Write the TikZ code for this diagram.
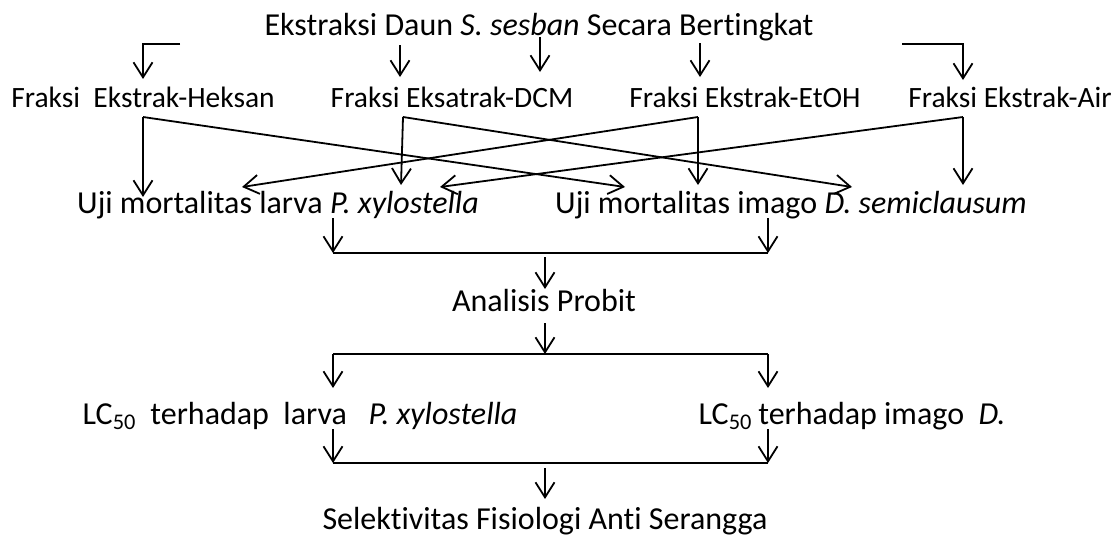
\documentclass[tikz,border=0pt]{standalone}
\usepackage{fontspec}
\setmainfont{Carlito}[Ligatures=NoCommon]
\usetikzlibrary{arrows.meta}

\begin{document}
\begin{tikzpicture}[
            x=1pt, y=-1pt,
            label/.style={inner sep=0pt, anchor=base, font=\fontsize{32}{36}\selectfont},
            fraksi/.style={label, font=\fontsize{29.5}{34}\selectfont},
            arrow/.style={line width=1.8pt, -{Straight Barb[length=15pt,width=19pt,line width=1.8pt]}},
            bar/.style={line width=1.8pt}
        ]
            \path[use as bounding box] (0,0) rectangle (1118,536);

            % Texts
            \node[label] (title) at (539,35) {Ekstraksi Daun \textit{S. sesban} Secara Bertingkat};
            \node[fraksi] (heksan) at (143,107) {Fraksi\ \ Ekstrak-Heksan};
            \node[fraksi] (dcm) at (452,107) {Fraksi Eksatrak-DCM};
            \node[fraksi] (etoh) at (745,107) {Fraksi Ekstrak-EtOH};
            \node[fraksi] (air) at (1010,107) {Fraksi Ekstrak-Air};
            \node[label] (larva) at (278,213) {Uji mortalitas larva \textit{P. xylostella}};
            \node[label] (imago) at (791,213) {Uji mortalitas imago \textit{D. semiclausum}};
            \node[label] (probit) at (544,311) {Analisis Probit};
            \node[label] (lclarva) at (300,424) {LC\textsubscript{50}\ \ terhadap\ \ larva\ \ \ \textit{P. xylostella}};
            \node[label] (lcimago) at (852,424) {LC\textsubscript{50}\hspace{0.2em}terhadap imago\hspace{0.45em}\textit{D.}};
            \node[label] (selek) at (545,529) {Selektivitas Fisiologi Anti Serangga};

            % Branch points
            \coordinate (hkStub) at (180,44);
            \coordinate (arStub) at (902,44);
            \coordinate (hkJ) at (143,117);
            \coordinate (dcJ) at (403,117);
            \coordinate (etJ) at (698,117);
            \coordinate (arJ) at (963,117);

            % Arrow tips
            \coordinate (hkIn) at (143,79);
            \coordinate (arIn) at (963,80);
            \coordinate (lvHk) at (143,197);
            \coordinate (lvDc) at (401,185);
            \coordinate (lvEt) at (242,187);
            \coordinate (lvAr) at (440,187);
            \coordinate (imHk) at (625,187);
            \coordinate (imDc) at (852,187);
            \coordinate (imEt) at (698,185);
            \coordinate (imAr) at (963,185);

            % Bars
            \coordinate (barAL) at (333,253);
            \coordinate (barAR) at (768,253);
            \coordinate (barBL) at (333,354);
            \coordinate (barBR) at (768,354);
            \coordinate (barCL) at (333,463);
            \coordinate (barCR) at (768,463);

            % From the extraction to the fractions
            \draw[arrow] (hkStub) -| (hkIn);
            \draw[arrow] (arStub) -| (arIn);
            \draw[arrow] (400,45) -- (400,77);
            \draw[arrow] (540,37) -- (540,72);
            \draw[arrow] (700,43) -- (700,77);

            % Fractions to both mortality tests
            \draw[arrow] (hkJ) -- (lvHk);
            \draw[arrow] (hkJ) -- (imHk);
            \draw[arrow] (dcJ) -- (lvDc);
            \draw[arrow] (dcJ) -- (imDc);
            \draw[arrow] (etJ) -- (lvEt);
            \draw[arrow] (etJ) -- (imEt);
            \draw[arrow] (arJ) -- (lvAr);
            \draw[arrow] (arJ) -- (imAr);

            % Tests to probit
            \draw[arrow] (333,218) -- (barAL);
            \draw[arrow] (768,218) -- (barAR);
            \draw[bar] (barAL) -- (barAR);
            \draw[arrow] (545,257) -- (545,289);

            % Probit to LC50
            \draw[arrow] (545,323) -- (545,354);
            \draw[arrow] (barBL) -- (333,388);
            \draw[bar] (barBL) -- (barBR);
            \draw[arrow] (barBR) -- (768,388);

            % LC50 to selectivity
            \draw[arrow] (333,429) -- (barCL);
            \draw[arrow] (768,429) -- (barCR);
            \draw[bar] (barCL) -- (barCR);
            \draw[arrow] (545,468) -- (545,499);
        \end{tikzpicture}
\end{document}
